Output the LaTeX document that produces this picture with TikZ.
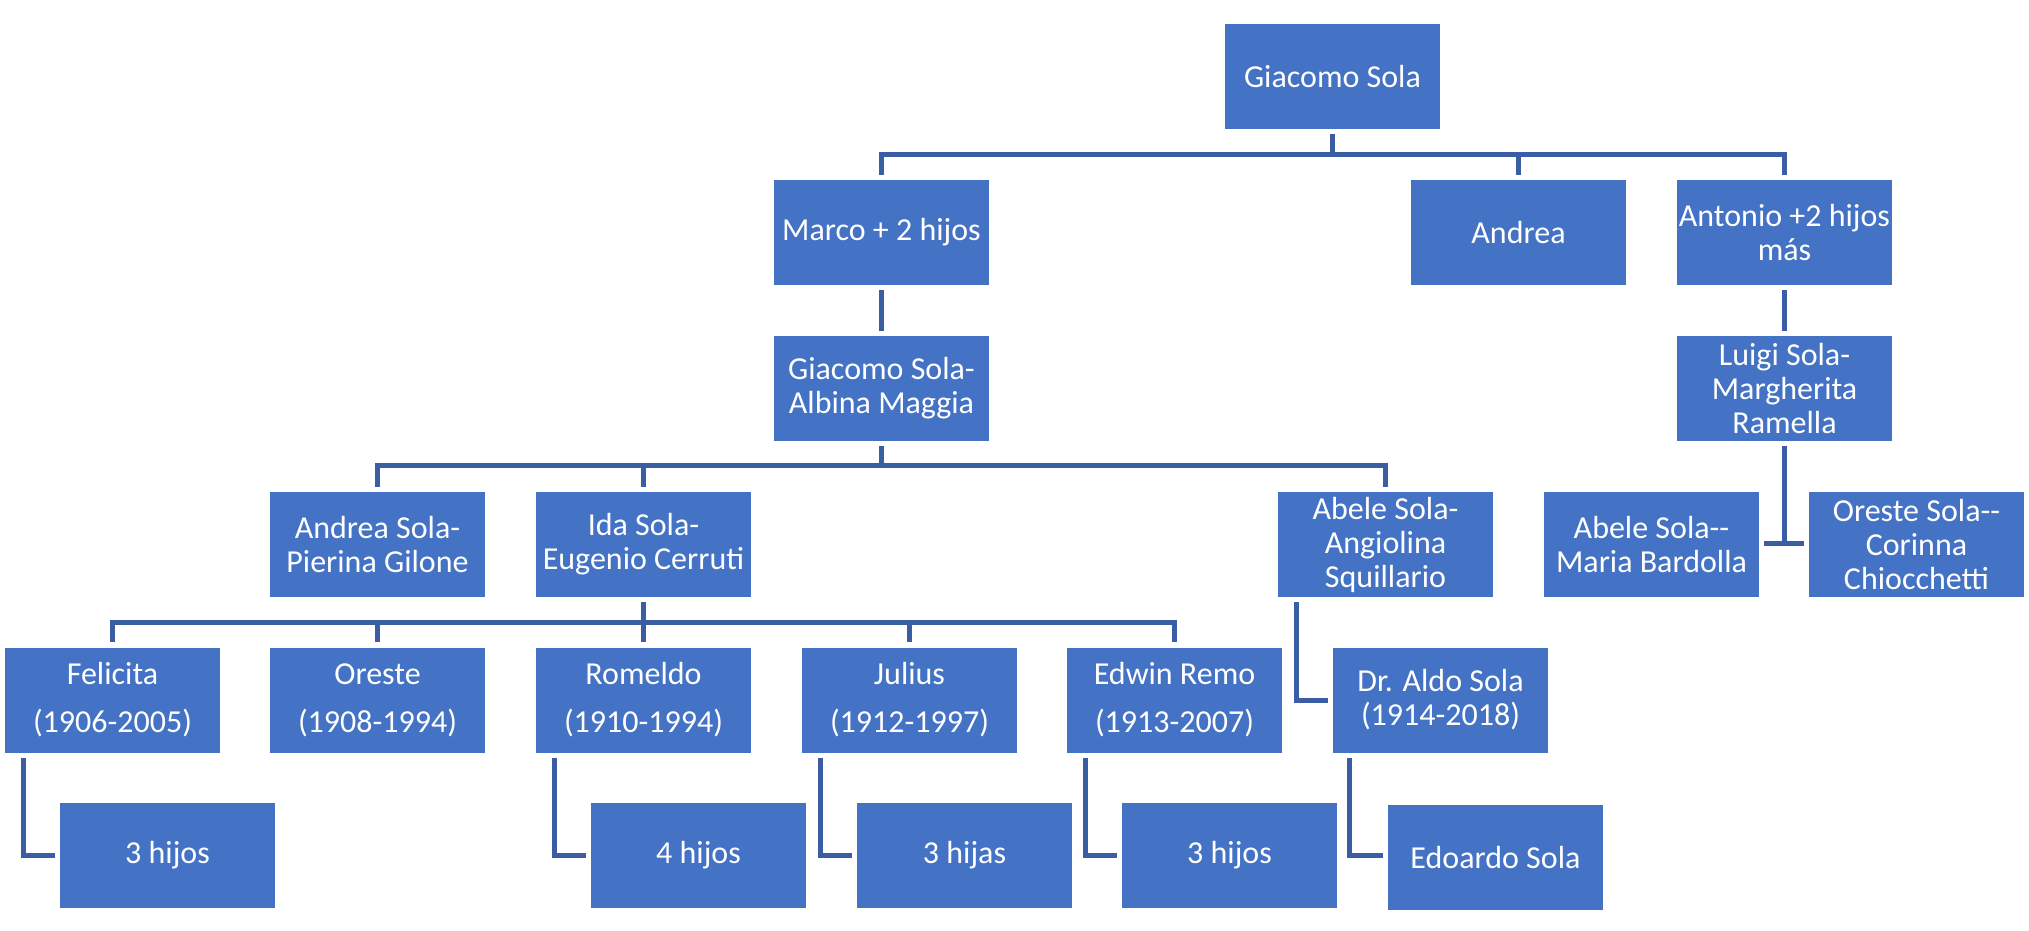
\documentclass[tikz,border=0pt]{standalone}
\usepackage{fontspec}
\setmainfont{Carlito}
\definecolor{boxblue}{HTML}{4472C4}
\definecolor{lineblue}{HTML}{3A5DA3}
\begin{document}
\begin{tikzpicture}[x=1pt,y=1pt,
  box/.style={fill=boxblue,draw=none,minimum width=215pt,minimum height=105pt,inner sep=0pt,
    text=white,align=center,font=\fontsize{32}{34}\selectfont},
  wide/.style={box,font=\fontsize{32}{48}\selectfont},
  conn/.style={draw=lineblue,line width=5pt}]
\useasboundingbox (0,0) rectangle (2029,-931);
% row 0
\node[box] (giac) at (1332.5,-76.5) {Giacomo Sola};
% row 1
\node[box] (marco) at (881.5,-232.5) {Marco + 2 hijos};
\node[box] (andrea) at (1518.5,-232.5) {Andrea};
\node[box] (antonio) at (1784.5,-232.5) {Antonio +2 hijos\\más};
% row 2
\node[box] (ga) at (881.5,-388.5) {Giacomo Sola-\\Albina Maggia};
\node[box] (luigi) at (1784.5,-388.5) {Luigi Sola-\\Margherita\\Ramella};
% row 3
\node[box] (ap) at (377.5,-544.5) {Andrea Sola-\\Pierina Gilone};
\node[box] (ida) at (643.5,-544.5) {Ida Sola-\\Eugenio Cerruti};
\node[box] (aa) at (1385.5,-544.5) {Abele Sola-\\Angiolina\\Squillario};
\node[box] (am) at (1651.5,-544.5) {Abele Sola-{}-\\Maria Bardolla};
\node[box] (oc) at (1916.5,-544.5) {Oreste Sola-{}-\\Corinna\\Chiocchetti};
% row 4
\node[wide] (fel) at (112.5,-700) {Felicita\\(1906-2005)};
\node[wide] (ore) at (377.5,-700) {Oreste\\(1908-1994)};
\node[wide] (rom) at (643.5,-700) {Romeldo\\(1910-1994)};
\node[wide] (jul) at (909.5,-700) {Julius\\(1912-1997)};
\node[wide] (edw) at (1174.5,-700) {Edwin Remo\\(1913-2007)};
\node[box] (aldo) at (1440.5,-700) {Dr. Aldo Sola\\(1914-2018)};
% row 5
\node[box] (h1) at (167.5,-855.5) {3 hijos};
\node[box] (h2) at (698.5,-855.5) {4 hijos};
\node[box] (h3) at (964.5,-855.5) {3 hijas};
\node[box] (h4) at (1229.5,-855.5) {3 hijos};
\node[box] (edo) at (1495.5,-857.5) {Edoardo Sola};
% bars
\coordinate (b0) at (0,-154.5);
\coordinate (b2) at (0,-465.5);
\coordinate (b3) at (0,-622);
% level 0 -> 1
\foreach \c in {marco,andrea,antonio}
  \draw[conn] ([yshift=-5pt]giac.south) -- (giac.south |- b0) -| ([yshift=5pt]\c.north);
% straight links
\draw[conn] ([yshift=-5pt]marco.south) -- ([yshift=5pt]ga.north);
\draw[conn] ([yshift=-5pt]antonio.south) -- ([yshift=5pt]luigi.north);
% level 2 -> 3
\foreach \c in {ap,ida,aa}
  \draw[conn] ([yshift=-5pt]ga.south) -- (ga.south |- b2) -| ([yshift=5pt]\c.north);
% Ida -> children
\foreach \c in {fel,ore,rom,jul,edw}
  \draw[conn] ([yshift=-5pt]ida.south) -- (ida.south |- b3) -| ([yshift=5pt]\c.north);
% Luigi -> couples
\draw[conn] ([yshift=-5pt]luigi.south) -- ([yshift=-1pt]luigi.south |- am.east);
\draw[conn] ([xshift=5pt,yshift=1pt]am.east) -- ([xshift=-5pt,yshift=1pt]oc.west);
% elbows
\draw[conn] ([xshift=19pt,yshift=-5pt]fel.south west) |- ([xshift=-5pt]h1.west);
\draw[conn] ([xshift=19pt,yshift=-5pt]rom.south west) |- ([xshift=-5pt]h2.west);
\draw[conn] ([xshift=19pt,yshift=-5pt]jul.south west) |- ([xshift=-5pt]h3.west);
\draw[conn] ([xshift=19pt,yshift=-5pt]edw.south west) |- ([xshift=-5pt]h4.west);
\draw[conn] ([xshift=19pt,yshift=-5pt]aa.south west) |- ([xshift=-5pt]aldo.west);
\draw[conn] ([xshift=17pt,yshift=-5pt]aldo.south west) |- ([xshift=-5pt,yshift=2pt]edo.west);
\end{tikzpicture}
\end{document}
